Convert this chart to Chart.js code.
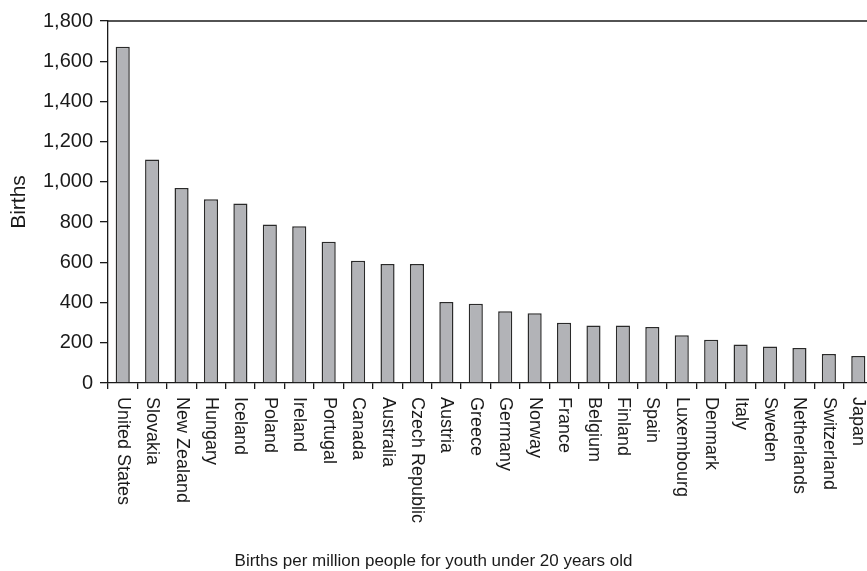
<!DOCTYPE html>
<html>
<head>
<meta charset="utf-8">
<script src="https://cdn.jsdelivr.net/npm/chart.js@4"></script>
<style>
    html, body { margin: 0; padding: 0; background: #fff; overflow: hidden; }
    #wrap { width: 873px; height: 571px; }
</style>
</head>
<body>
<div id="wrap"><canvas id="birthsChart" width="873" height="571"></canvas></div>
<script>
// 國家（依數值排序）
const countries = ['United States', 'Slovakia', 'New Zealand', 'Hungary', 'Iceland', 'Poland',
    'Ireland', 'Portugal', 'Canada', 'Australia', 'Czech Republic', 'Austria', 'Greece',
    'Germany', 'Norway', 'France', 'Belgium', 'Finland', 'Spain', 'Luxembourg', 'Denmark',
    'Italy', 'Sweden', 'Netherlands', 'Switzerland', 'Japan'];

// 每百萬人出生數
const births = [1672, 1111, 969, 914, 892, 788, 780, 702, 608, 592, 592, 403, 394,
    357, 347, 299, 286, 286, 278, 238, 215, 192, 182, 174, 144, 134];

const yTicks = [0, 200, 400, 600, 800, 1000, 1200, 1400, 1600, 1800];

const xTitle = 'Births per million people for youth under 20 years old';

const FONT = 'Liberation Sans, Arial, Helvetica, sans-serif';
const INK = '#1a1a1a';

// 直排的類別標籤、x 軸標題、頂部框線
const verticalLabels = {
    id: 'verticalLabels',
    afterDraw(chart) {
        const ctx = chart.ctx;
        const x = chart.scales.x;
        const area = chart.chartArea;

        ctx.save();
        ctx.strokeStyle = INK;
        ctx.lineWidth = 1.3;
        ctx.beginPath();
        ctx.moveTo(area.left, area.top);
        ctx.lineTo(area.right, area.top);
        ctx.stroke();

        ctx.fillStyle = INK;
        ctx.font = '18px ' + FONT;
        ctx.textAlign = 'left';
        ctx.textBaseline = 'middle';
        countries.forEach((name, i) => {
            ctx.save();
            ctx.translate(x.getPixelForValue(i), area.bottom + 14);
            ctx.rotate(Math.PI / 2);
            ctx.fillText(name, 0, 0);
            ctx.restore();
        });

        // 標題置於整張圖的中央（圖面右側被裁切）
        ctx.font = '17px ' + FONT;
        ctx.textAlign = 'center';
        ctx.fillText(xTitle, 433.5, 561);
        ctx.restore();
    }
};

new Chart(document.getElementById('birthsChart'), {
    type: 'bar',
    data: {
        labels: countries,
        datasets: [{
            data: births,
            backgroundColor: '#b2b3b7',
            borderColor: '#2a2a2a',
            borderWidth: 1.5,
            categoryPercentage: 1,
            barPercentage: 0.48
        }]
    },
    options: {
        responsive: false,
        animation: false,
        events: [],
        layout: { padding: { top: 21, right: 0, bottom: 0, left: 0 } },
        plugins: {
            legend: { display: false },
            tooltip: { enabled: false }
        },
        scales: {
            x: {
                offset: true,
                grid: {
                    offset: true,
                    drawOnChartArea: false,
                    drawTicks: true,
                    tickLength: 6,
                    color: INK,
                    lineWidth: 1.3
                },
                border: { color: INK, width: 1.3 },
                ticks: { display: false },
                afterFit(scale) {
                    scale.height = 188;
                }
            },
            y: {
                min: 0,
                max: 1800,
                afterBuildTicks(scale) {
                    scale.ticks = yTicks.map(v => ({ value: v }));
                },
                afterFit(scale) {
                    scale.width = 108;
                },
                grid: {
                    drawOnChartArea: false,
                    drawTicks: true,
                    tickLength: 8,
                    color: INK,
                    lineWidth: 1.3
                },
                border: { color: INK, width: 1.3 },
                ticks: {
                    color: INK,
                    padding: 7,
                    font: { family: FONT, size: 20 },
                    callback: v => v.toLocaleString('en-US')
                },
                title: {
                    display: true,
                    text: 'Births',
                    color: INK,
                    font: { family: FONT, size: 21 },
                    padding: { top: 7, bottom: 0 }
                }
            }
        }
    },
    plugins: [verticalLabels]
});
</script>
</body>
</html>
